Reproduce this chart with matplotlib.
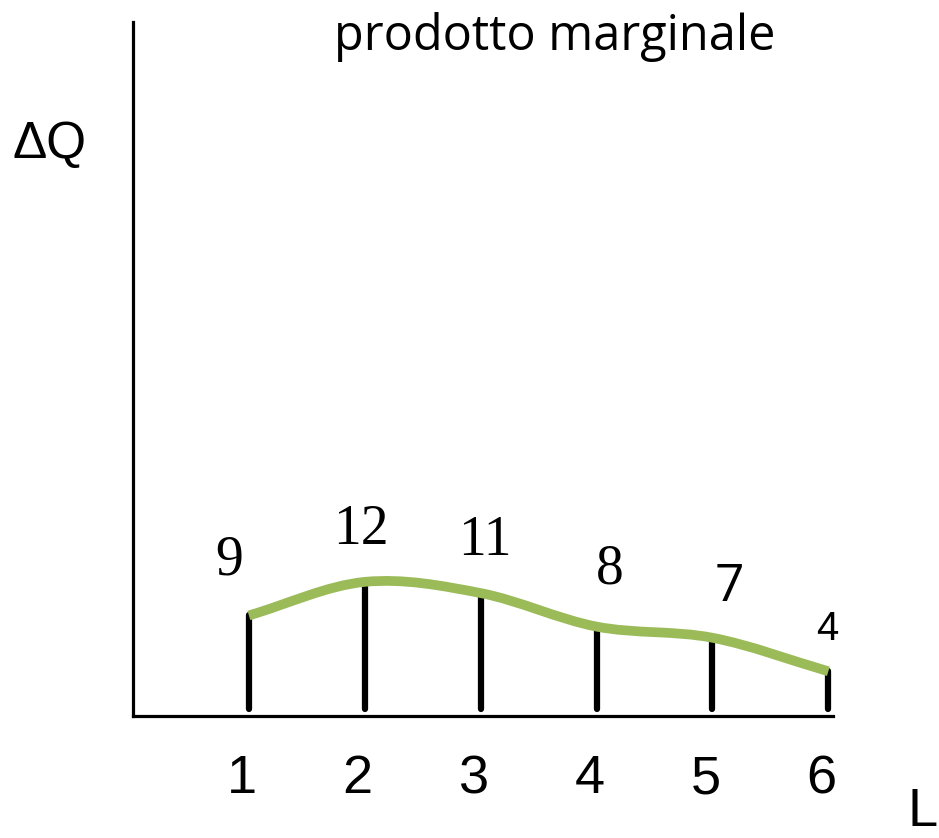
import matplotlib
matplotlib.use("Agg")
import matplotlib.pyplot as plt
from matplotlib.path import Path
from matplotlib.patches import PathPatch
import numpy as np

# unità di lavoro L e prodotto marginale ΔQ
L_values = [1, 2, 3, 4, 5, 6]
delta_Q = [9, 12, 11, 8, 7, 4]
tick_labels = ["1", "2", "3", "4", "5", "6"]

GREEN = "#9BBB59"


def smooth_path(xs, ys):
    # curva liscia (Catmull-Rom convertita in segmenti di Bézier cubici)
    pts = np.column_stack([xs, ys]).astype(float)
    ext = np.vstack([pts[0] - (pts[1] - pts[0]), pts, pts[-1] + (pts[-1] - pts[-2])])
    verts = [tuple(pts[0])]
    codes = [Path.MOVETO]
    for i in range(1, len(ext) - 2):
        p0, p1, p2, p3 = ext[i - 1], ext[i], ext[i + 1], ext[i + 2]
        c1 = p1 + (p2 - p0) / 6.0
        c2 = p2 - (p3 - p1) / 6.0
        verts += [tuple(c1), tuple(c2), tuple(p2)]
        codes += [Path.CURVE4] * 3
    return Path(verts, codes)


W, H = 939, 838
fig = plt.figure(figsize=(W / 100, H / 100), dpi=100)
ax = fig.add_axes([133 / W, (H - 716) / H, 700 / W, 694 / H])
ax.set_xlim(0, 6.04)
ax.set_ylim(0, 62.1)

for side in ["top", "right"]:
    ax.spines[side].set_visible(False)
for side in ["left", "bottom"]:
    ax.spines[side].set_linewidth(2.3)
    ax.spines[side].set_color("black")
ax.set_xticks([])
ax.set_yticks([])

# barre verticali
for x, q in zip(L_values, delta_Q):
    ax.plot([x, x], [0.6, q], color="black", lw=4.5,
            solid_capstyle="round", clip_on=False, zorder=2)

# curva del prodotto marginale
ax.add_patch(PathPatch(smooth_path(L_values, delta_Q), fill=False,
                       edgecolor=GREEN, lw=7, capstyle="butt", zorder=3))

# etichette dei valori
label_offsets = [(-20, 55), (-4, 52), (4, 52), (13, 57), (17, 50), (-1, 42)]
label_fonts = [("Liberation Serif", 40), ("Liberation Serif", 40),
               ("Liberation Serif", 40), ("Liberation Serif", 40),
               ("Open Sans", 37), ("Liberation Sans", 29)]
for x, q, (dx, dy), (fam, fs) in zip(L_values, delta_Q, label_offsets, label_fonts):
    ax.annotate(str(q), (x, q), xytext=(dx, dy), textcoords="offset pixels",
                ha="center", va="center", family=fam, fontsize=fs)

# etichette dell'asse L
for x, lab in zip(L_values, tick_labels):
    ax.annotate(lab, (x, 0), xytext=(-7, -63), textcoords="offset pixels",
                ha="center", va="center", family="Liberation Sans", fontsize=39)

fig.text(50 / W, 1 - 144 / H, "ΔQ", ha="center", va="center",
         family="Liberation Sans", fontsize=37)
fig.text(908 / W, 1 - 837 / H, "L", ha="left", va="bottom",
         family="Liberation Sans", fontsize=39)
fig.text(555 / W, 1 - 50 / H, "prodotto marginale", ha="center", va="baseline",
         family="Open Sans", fontsize=35)

fig.savefig("out.png", dpi=100)
